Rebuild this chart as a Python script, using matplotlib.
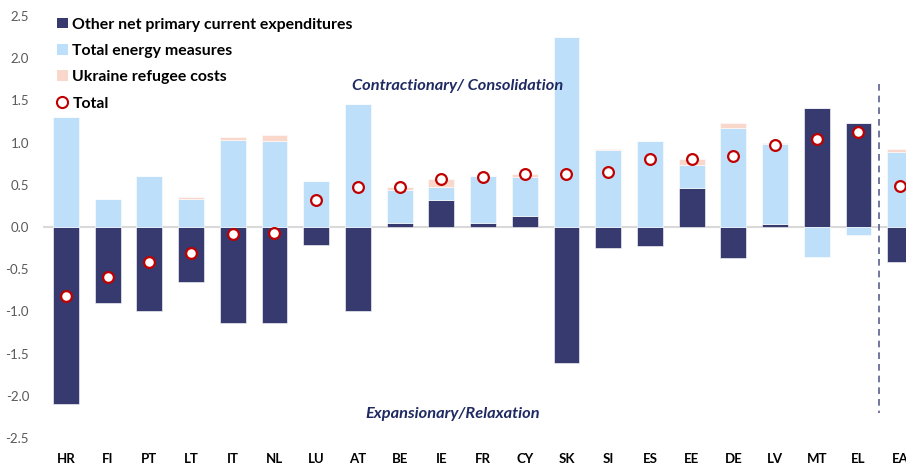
import matplotlib.pyplot as plt
import numpy as np
from matplotlib.patches import Patch
from matplotlib.lines import Line2D

plt.rcParams['font.family'] = ['Lato', 'DejaVu Sans']

# Data (pp of GDP)
countries = ['HR', 'FI', 'PT', 'LT', 'IT', 'NL', 'LU', 'AT', 'BE', 'IE', 'FR',
             'CY', 'SK', 'SI', 'ES', 'EE', 'DE', 'LV', 'MT', 'EL', 'EA']
other_exp = [-2.10, -0.90, -1.00, -0.65, -1.14, -1.14, -0.21, -1.00, 0.05, 0.32, 0.05,
             0.13, -1.61, -0.25, -0.22, 0.46, -0.37, 0.03, 1.41, 1.23, -0.41]
energy = [1.30, 0.33, 0.60, 0.33, 1.03, 1.02, 0.54, 1.46, 0.39, 0.15, 0.55,
          0.46, 2.25, 0.91, 1.02, 0.28, 1.17, 0.95, -0.36, -0.09, 0.89]
refugee = [0.00, 0.00, 0.01, 0.02, 0.035, 0.07, 0.00, 0.00, 0.03, 0.10, 0.01,
           0.04, 0.00, 0.01, 0.00, 0.07, 0.06, 0.01, 0.00, 0.00, 0.03]
total = [-0.82, -0.59, -0.42, -0.31, -0.08, -0.07, 0.32, 0.47, 0.47, 0.57, 0.59,
         0.63, 0.63, 0.65, 0.80, 0.80, 0.84, 0.97, 1.04, 1.13, 0.49]

DARK = '#363A6E'
LIGHT = '#BDDFFA'
PINK = '#FAD7CB'
RED = '#C00000'

fig = plt.figure(figsize=(9.06, 4.65), dpi=100)
ax = fig.add_axes([43 / 906, 1 - 438 / 465, (906 - 43) / 906, (438 - 16) / 465])

x = np.arange(len(countries))
width = 0.62
pos_base = np.zeros(len(countries))
neg_base = np.zeros(len(countries))
for vals, col in [(other_exp, DARK), (energy, LIGHT), (refugee, PINK)]:
    vals = np.array(vals)
    base = np.where(vals >= 0, pos_base, neg_base)
    ax.bar(x, vals, width, bottom=base, color=col, edgecolor='white', linewidth=0.4, zorder=2)
    pos_base = pos_base + np.clip(vals, 0, None)
    neg_base = neg_base + np.clip(vals, None, 0)

ax.axhline(0, color='#D9D9D9', linewidth=1.5, zorder=1)
ax.scatter(x, total, s=60, facecolor='white', edgecolor=RED, linewidth=1.6, zorder=4)

# separator before euro area
ax.plot([19.5, 19.5], [1.69, -2.2], color='#5B5F8F', linestyle=(0, (4, 3)), linewidth=1.2, zorder=3)

ax.text(9.39, 1.67, 'Contractionary/ Consolidation', ha='center', va='center',
        fontsize=11.8, fontweight='bold', style='italic', color='#1F2A63')
ax.text(9.27, -2.22, 'Expansionary/Relaxation', ha='center', va='center',
        fontsize=11.8, fontweight='bold', style='italic', color='#1F2A63')

ax.set_xlim(-0.55, 20.14)
ax.set_ylim(-2.5, 2.5)
ax.set_yticks(np.arange(-2.5, 2.51, 0.5))
ax.set_yticklabels([f'{v:.1f}' for v in np.arange(-2.5, 2.51, 0.5)])
ax.set_xticks(x)
ax.set_xticklabels(countries, fontweight='bold')
ax.tick_params(axis='y', length=0, pad=10, labelsize=9.5, labelcolor='#595959')
ax.tick_params(axis='x', length=0, pad=11, labelsize=9.5, labelcolor='black')
for s in ax.spines.values():
    s.set_visible(False)

handles = [Patch(facecolor=DARK, label='Other net primary current expenditures'),
           Patch(facecolor=LIGHT, label='Total energy measures'),
           Patch(facecolor=PINK, label='Ukraine refugee costs'),
           Line2D([], [], marker='o', linestyle='none', markerfacecolor='white',
                  markeredgecolor=RED, markeredgewidth=1.5, markersize=8, label='Total')]
leg = ax.legend(handles=handles, loc='upper left', bbox_to_anchor=(0.0, 1.03), frameon=False,
                handlelength=0.65, handleheight=0.65, handletextpad=0.3, labelspacing=0.78,
                prop={'weight': 'bold', 'size': 11.4})

fig.savefig('out.png', dpi=100)
